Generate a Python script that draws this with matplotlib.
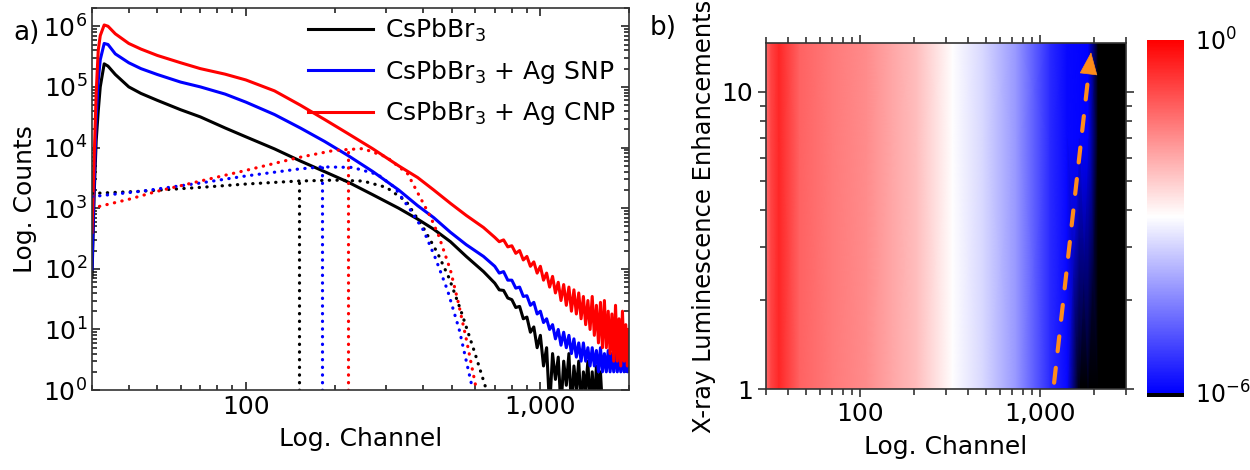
import numpy as np
import matplotlib.pyplot as plt
from matplotlib.colors import LogNorm
from matplotlib.ticker import FixedLocator, FuncFormatter, LogLocator, NullFormatter
import matplotlib.cm as cm

plt.rcParams['font.family'] = ['DejaVu Sans']
plt.rcParams['mathtext.fontset'] = 'dejavusans'

# ---------------- panel a) data ----------------
# smooth part of the spectra (channel, counts)
ch = [30, 30.5, 31, 31.5, 32, 33, 34, 36, 40, 44, 50, 60, 70, 85, 100, 125,
      153, 185, 222, 270, 330, 383, 434, 495, 560, 641]
cnt_pure = [73, 1.6e3, 1.3e4, 4e4, 1e5, 2.4e5, 2.2e5, 1.6e5, 1e5, 7.8e4, 6e4,
            4.2e4, 3.2e4, 2.1e4, 1.5e4, 9.5e3, 6e3, 4e3, 2.7e3, 1.66e3, 1e3,
            660, 450, 280, 160, 90]
cnt_snp = [100, 2.5e3, 3.2e4, 1.26e5, 2.8e5, 5.2e5, 5e5, 3.5e5, 2.5e5, 2e5,
           1.6e5, 1.2e5, 1e5, 7.6e4, 5.6e4, 3.5e4, 2.1e4, 1.26e4, 7.4e3, 4e3,
           2e3, 1.1e3, 700, 400, 250, 160]
cnt_cnp = [400, 6.3e3, 8e4, 4e5, 7e5, 1.05e6, 1e6, 7.5e5, 5.2e5, 4.2e5, 3.3e5,
           2.5e5, 2e5, 1.62e5, 1.3e5, 8.6e4, 5e4, 2.9e4, 1.7e4, 9.5e3, 5e3,
           3.2e3, 2e3, 1.2e3, 760, 480]

# noisy tail, every 25 channels from 700 to 2000
ch_tail = np.arange(700, 2001, 25)
tail_pure = [58, 45, 44, 33, 31, 23, 24, 15, 16, 9, 11, 5, 8, 2.5, 5, 0.5, 4, 1.5,
             3.5, 0.5, 3, 1.2, 4, 0.5, 2.5, 1, 3, 0.5, 2, 1, 3, 0.5, 2, 0.5,
             2.5, 1, 2, 0.5] + [np.nan] * 15
tail_snp = [110, 85, 90, 65, 65, 48, 50, 35, 36, 25, 28, 18, 20, 13, 15, 10, 12,
            7, 10, 5.5, 9, 5, 8, 4, 7, 3.5, 6, 3, 6, 3, 5, 2.5, 5, 2.5, 4.5, 2,
            5, 2, 4, 2, 4.5, 2, 4, 2, 5, 2, 4, 2, 4.5, 2, 5, 2, 4]
tail_cnp = [330, 280, 300, 230, 240, 180, 200, 140, 160, 110, 130, 85, 110, 65,
            85, 50, 75, 40, 60, 30, 55, 25, 50, 20, 45, 18, 40, 15, 35, 12, 30,
            10, 35, 8, 25, 6, 28, 5, 30, 5, 20, 4, 18, 3, 25, 3, 15, 2.5, 20, 3,
            12, 2.5, 10]

# fitted peaks (dotted)
fit_ch_pure = [30, 44, 70, 100, 150, 200, 250, 300, 350, 400, 448, 490, 536, 600, 656]
fit_pure = [1.75e3, 1.9e3, 2.2e3, 2.5e3, 2.8e3, 2.9e3, 2.8e3, 2.2e3, 1.3e3, 480,
            180, 70, 21, 4, 1]
fit_ch_snp = [30, 44, 70, 100, 150, 180, 230, 280, 320, 362, 401, 440, 484, 530, 587]
fit_snp = [1.55e3, 1.9e3, 2.6e3, 3.4e3, 4.4e3, 4.8e3, 4.7e3, 3.6e3, 2.2e3, 930,
           430, 150, 44, 10, 1.1]
fit_ch_cnp = [30, 40, 50, 70, 100, 150, 200, 250, 300, 354, 424, 451, 495, 527, 560, 607]
fit_cnp = [1e3, 1.4e3, 1.9e3, 2.8e3, 4.2e3, 6.8e3, 9e3, 9.6e3, 7e3, 3.7e3, 710,
           357, 95, 27, 7, 1]
peak_ch = [151, 181, 222]
peak_val = [2.8e3, 4.8e3, 9.5e3]

labels = [r'CsPbBr$_3$', r'CsPbBr$_3$ + Ag SNP', r'CsPbBr$_3$ + Ag CNP']
colors = ['black', '#0000FF', '#FF0000']

# ---------------- panel b) data ----------------
heat_ch = [30, 32, 35.5, 46, 70, 109, 150, 207, 326, 489, 743, 1136, 1412,
           1650, 1850, 2100, 3000]
heat_level = [-1.3, -0.8, -0.45, -1.17, -1.45, -1.65, -1.95, -2.24, -3.0,
              -3.48, -4.24, -5.5, -5.9, -5.95, -5.98, -7, -7]
heat_enh = [1, 7, 15]
heat_cut = [1450, 1900, 1950]   # channel where the signal drops to zero
arrow_start = (1196, 1.05)
arrow_end = (1919, 13.6)

fig = plt.figure(figsize=(12.5, 4.7), dpi=100)

# ================= panel a =================
ax = fig.add_axes([0.0736, 0.170, 0.4296, 0.813])
dot = (0, (0.1, 2.3))
for c, y_main, y_tail, lab in zip(colors, [cnt_pure, cnt_snp, cnt_cnp],
                                  [tail_pure, tail_snp, tail_cnp], labels):
    ax.plot(ch + list(ch_tail), y_main + y_tail, color=c, lw=2.2, label=lab)

for c, fx, fy, px, pv in zip(colors, [fit_ch_pure, fit_ch_snp, fit_ch_cnp],
                             [fit_pure, fit_snp, fit_cnp], peak_ch, peak_val):
    ax.plot(fx, fy, color=c, lw=2.3, ls=dot, dash_capstyle='round')
    ax.plot([px, px], [1, pv], color=c, lw=2.3, ls=dot, dash_capstyle='round')

ax.set_xscale('log')
ax.set_yscale('log')
ax.set_xlim(30, 2000)
ax.set_ylim(1, 2e6)
ax.xaxis.set_major_locator(FixedLocator([100, 1000]))
ax.xaxis.set_major_formatter(FuncFormatter(lambda v, p: f'{int(v):,}'))
ax.xaxis.set_minor_locator(LogLocator(base=10, subs=np.arange(2, 10)))
ax.xaxis.set_minor_formatter(NullFormatter())
ax.yaxis.set_major_locator(LogLocator(base=10, numticks=10))
ax.yaxis.set_minor_locator(LogLocator(base=10, subs=np.arange(2, 10), numticks=10))
ax.yaxis.set_minor_formatter(NullFormatter())
ax.tick_params(which='both', direction='in', top=True, right=True, labelsize=18,
               width=1.2, colors='#222222', labelcolor='black')
ax.tick_params(which='major', length=6)
ax.tick_params(which='minor', length=3.5)
for s in ax.spines.values():
    s.set_linewidth(1.2)
    s.set_color('#333333')
ax.set_xlabel('Log. Channel', fontsize=18, labelpad=6)
ax.set_ylabel('Log. Counts', fontsize=18, labelpad=4)
ax.legend(loc='upper right', frameon=False, fontsize=18, handlelength=2.6,
          handletextpad=0.5, labelspacing=0.55, borderaxespad=0.1,
          bbox_to_anchor=(1.0, 1.01))
fig.text(0.011, 0.915, 'a)', fontsize=19)

# ================= panel b =================
bx = fig.add_axes([0.6128, 0.1723, 0.288, 0.736])
cmap = plt.get_cmap('bwr').copy()
cmap.set_under('black')
norm = LogNorm(vmin=1e-6, vmax=1)
Z = np.array([[10.0 ** lv if c < cut else 1e-7 for c, lv in zip(heat_ch, heat_level)]
              for cut in heat_cut])
bx.pcolormesh(heat_ch, heat_enh, Z, cmap=cmap, norm=norm, shading='gouraud')
bx.set_xscale('log')
bx.set_yscale('log')
bx.set_xlim(30, 3000)
bx.set_ylim(1, 14.6)
bx.xaxis.set_major_locator(FixedLocator([100, 1000]))
bx.xaxis.set_major_formatter(FuncFormatter(lambda v, p: f'{int(v):,}'))
bx.xaxis.set_minor_locator(LogLocator(base=10, subs=np.arange(2, 10)))
bx.xaxis.set_minor_formatter(NullFormatter())
bx.yaxis.set_major_locator(FixedLocator([1, 10]))
bx.yaxis.set_major_formatter(FuncFormatter(lambda v, p: f'{int(v)}'))
bx.yaxis.set_minor_locator(LogLocator(base=10, subs=np.arange(2, 10)))
bx.yaxis.set_minor_formatter(NullFormatter())
bx.tick_params(which='both', direction='out', top=True, right=True, labelsize=18,
               width=1.2, colors='#333333', labelcolor='black')
bx.tick_params(which='major', length=6)
bx.tick_params(which='minor', length=4)
for s in bx.spines.values():
    s.set_linewidth(1.2)
    s.set_color('#333333')
bx.set_xlabel('Log. Channel', fontsize=18, labelpad=6)
bx.set_ylabel('X-ray Luminescence Enhancements', fontsize=17.5, labelpad=4)

orange = '#FF8C1A'
mid = (1870, 11.9)
bx.annotate('', xy=mid, xytext=arrow_start,
            arrowprops=dict(arrowstyle='-', color=orange, lw=3,
                            linestyle=(0, (3.6, 4.0)), shrinkA=0, shrinkB=0))
bx.annotate('', xy=arrow_end, xytext=mid,
            arrowprops=dict(arrowstyle='-|>,head_length=0.75,head_width=0.3',
                            color=orange, lw=0.5, mutation_scale=20,
                            shrinkA=0, shrinkB=0))
fig.text(0.52, 0.925, 'b)', fontsize=19)

# colorbar
cax = fig.add_axes([0.9176, 0.1553, 0.0296, 0.7596])
sm = cm.ScalarMappable(norm=norm, cmap=cmap)
cb = fig.colorbar(sm, cax=cax, extend='min', extendrect=True, extendfrac=0.012)
cb.outline.set_visible(False)
cb.set_ticks([1e-6, 1])
cb.set_ticklabels([r'$10^{-6}$', r'$10^{0}$'])
cb.ax.minorticks_off()
cb.ax.tick_params(length=0, labelsize=17, pad=8)

fig.savefig('out.png', dpi=100)
